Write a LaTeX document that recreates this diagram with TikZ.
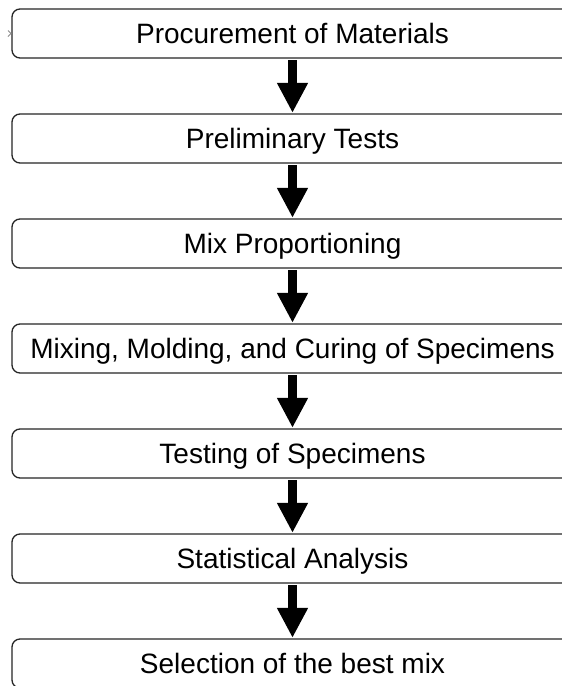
\documentclass[tikz,border=0pt]{standalone}
\usepackage{fontspec}
\setmainfont{Liberation Sans}
\usetikzlibrary{arrows.meta}
\begin{document}
\begin{tikzpicture}[x=1pt,y=-1pt,
  stepbox/.style={draw=black!85, line width=1.3pt, rounded corners=8pt,
    minimum width=561pt, minimum height=49pt, inner sep=0pt,
    text height=19pt, text depth=0pt,
    font=\fontsize{28}{33}\selectfont, text=black},
  bigarrow/.style={line width=9pt, -{Triangle[width=29pt,length=30pt]}}]
\clip (0,0) rectangle (562,686);
\fill[white] (0,0) rectangle (562,686);
\node[stepbox] (b1) at (292.5,33.5) {Procurement of Materials};
\node[stepbox] (b2) at (292.5,138.5) {Preliminary Tests};
\node[stepbox] (b3) at (292.5,243.5) {Mix Proportioning};
\node[stepbox] (b4) at (292.5,348.5) {Mixing, Molding, and Curing of Specimens};
\node[stepbox] (b5) at (292.5,453.5) {Testing of Specimens};
\node[stepbox] (b6) at (292.5,558.5) {Statistical Analysis};
\node[stepbox] (b7) at (292.5,663.5) {Selection of the best mix};
\foreach \a/\b in {b1/b2,b2/b3,b3/b4,b4/b5,b5/b6,b6/b7}
  \draw[bigarrow] ([yshift=-1.5pt]\a.south) -- ([yshift=0.5pt]\b.north);
\coordinate (m) at (11,33.5);
\draw[black!45, line width=0.8pt] ([shift={(-3,-3)}]m) -- (m) -- ([shift={(-3,3)}]m);
\end{tikzpicture}
\end{document}
